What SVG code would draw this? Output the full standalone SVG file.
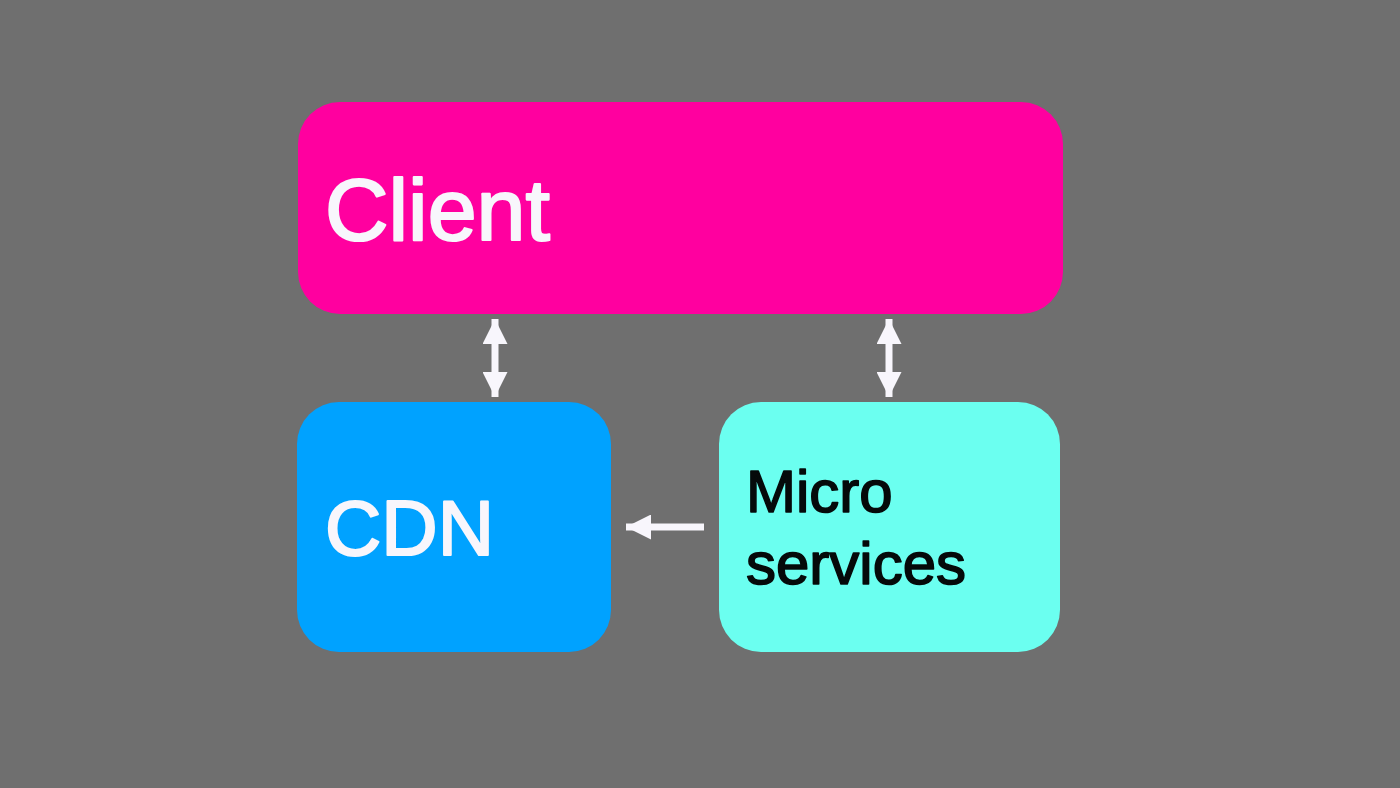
<svg xmlns="http://www.w3.org/2000/svg" width="1400" height="788" viewBox="0 0 1400 788">
  <style>
    .lbl { font-family: "Liberation Sans", Arial, sans-serif; stroke-linejoin: round; }
    .w { fill: #f8f6fc; stroke: #f8f6fc; stroke-width: 2.2; }
    .k { fill: #050a0a; stroke: #050a0a; stroke-width: 1.6; }
    .conn { stroke: #f8f6fc; stroke-width: 7; fill: none; }
  </style>
  <defs>
    <marker id="head" markerUnits="userSpaceOnUse" markerWidth="25" markerHeight="25" refX="25" refY="12.5" orient="auto-start-reverse" viewBox="0 0 25 25">
      <path d="M0,0 L25,12.5 L0,25 z" fill="#f8f6fc"/>
    </marker>
  </defs>
  <rect width="1400" height="788" fill="#6f6f6f"/>
  <g id="client">
    <rect x="298" y="102" width="765" height="212" rx="42" fill="#ff009f"/>
    <text class="lbl w" x="325" y="240" font-size="88">Client</text>
  </g>
  <g id="cdn">
    <rect x="297" y="402" width="314" height="250" rx="42" fill="#00a2ff"/>
    <text class="lbl w" x="325" y="555" font-size="78">CDN</text>
  </g>
  <g id="microservices">
    <rect x="719" y="402" width="341" height="250" rx="42" fill="#6bfff0"/>
    <text class="lbl k" x="746" y="512" font-size="60">Micro</text>
    <text class="lbl k" x="746" y="584" font-size="60">services</text>
  </g>
  <g id="connectors">
    <line class="conn" x1="495" y1="319" x2="495" y2="397" marker-start="url(#head)" marker-end="url(#head)"/>
    <line class="conn" x1="889" y1="319" x2="889" y2="397" marker-start="url(#head)" marker-end="url(#head)"/>
    <line class="conn" x1="704" y1="527" x2="626" y2="527" marker-end="url(#head)"/>
  </g>
</svg>
